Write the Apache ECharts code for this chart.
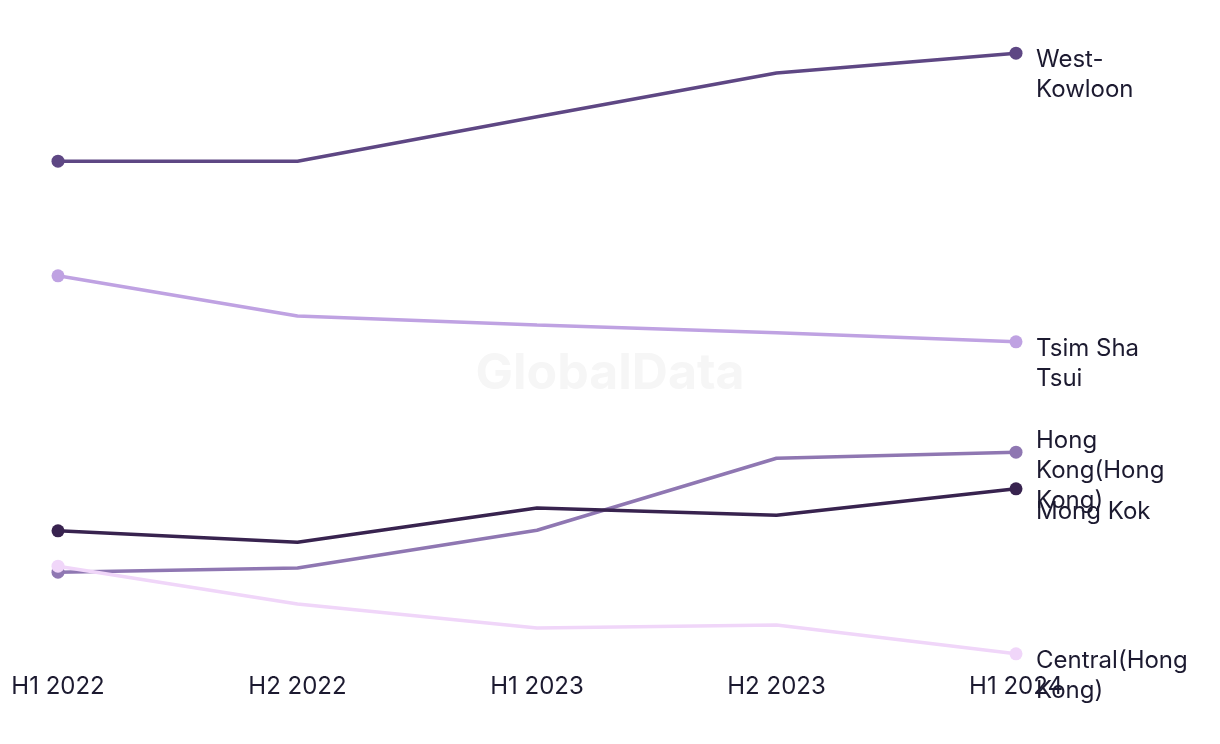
<!DOCTYPE html>
<html>
<head>
<meta charset="utf-8">
<script src="https://cdn.jsdelivr.net/npm/echarts@6/dist/echarts.min.js"></script>
<style>html,body{margin:0;padding:0;background:#fff}#c{width:1220px;height:744px}</style>
</head>
<body>
<div id="c"></div>
<script>
const categories = ['H1 2022', 'H2 2022', 'H1 2023', 'H2 2023', 'H1 2024'];
const westKowloon = [84.8, 84.8, 92.2, 99.5, 102.8];
const tsimShaTsui = [65.7, 59.0, 57.5, 56.2, 54.7];
const hongKong = [16.3, 17.0, 23.3, 35.3, 36.3];
const mongKok = [23.2, 21.3, 27.0, 25.8, 30.2];
const central = [17.3, 11.0, 7.0, 7.5, 2.7];
const seriesNames = ['West-Kowloon', 'Tsim Sha Tsui', 'Hong Kong(Hong Kong)', 'Mong Kok', 'Central(Hong Kong)'];
const endLabelText = ['West-\nKowloon', 'Tsim Sha\nTsui', 'Hong\nKong(Hong\nKong)', 'Mong Kok', 'Central(Hong\nKong)'];
const colors = ['#5e4784', '#bfa2e2', '#8f77b2', '#38234f', '#f0d6f9'];
const seriesData = [westKowloon, tsimShaTsui, hongKong, mongKok, central];
const labelShift = [22, 22, 19, 23, 22];

const FONT = 'Inter, "Noto Sans", sans-serif';
const chart = echarts.init(document.getElementById('c'), null, {renderer: 'canvas'});
const last = categories.length - 1;
chart.setOption({
  animation: false,
  backgroundColor: '#ffffff',
  grid: {left: 58, right: 204, top: 10, bottom: 74},
  graphic: [{
    type: 'text', left: 'center', top: 349, z: -1,
    style: {text: 'GlobalData', font: 'bold 50px ' + FONT, fill: '#f6f6f6'}
  }],
  xAxis: {
    type: 'category', data: categories, boundaryGap: false,
    axisLine: {show: false}, axisTick: {show: false}, splitLine: {show: false},
    axisLabel: {color: '#1c1a30', fontSize: 24, fontFamily: FONT, margin: 5}
  },
  yAxis: {type: 'value', min: 0, max: 110, show: false, splitLine: {show: false}},
  series: seriesData.map((d, i) => ({
    name: seriesNames[i], type: 'line', data: d,
    symbol: (v, p) => (p.dataIndex === 0 || p.dataIndex === last) ? 'circle' : 'none',
    symbolSize: 13,
    lineStyle: {width: 3.5, color: colors[i]},
    itemStyle: {color: colors[i]},
    endLabel: {
      show: true, formatter: () => endLabelText[i], distance: 20, offset: [0, labelShift[i]],
      color: '#1c1a30', fontSize: 24, fontFamily: FONT, lineHeight: 30
    }
  }))
});
</script>
</body>
</html>
